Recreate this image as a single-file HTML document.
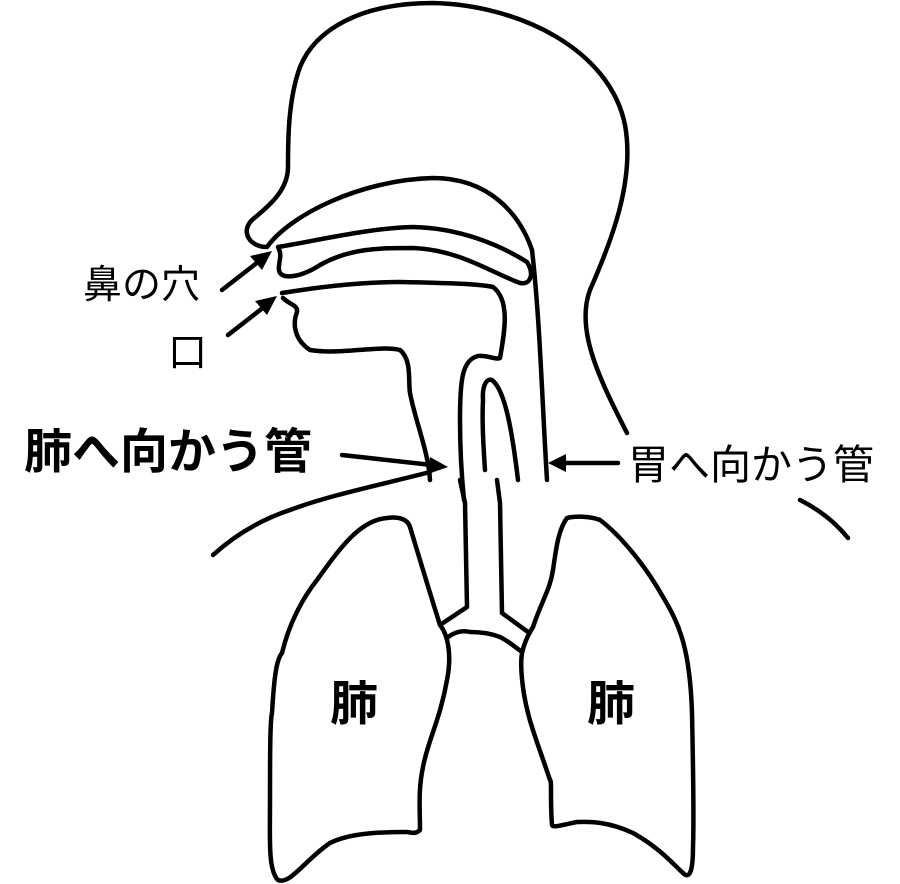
<!DOCTYPE html>
<html><head><meta charset="utf-8"><style>
html,body{margin:0;padding:0;background:#fff;width:900px;height:884px;overflow:hidden}
svg{display:block}
text{font-family:"Liberation Sans","Noto Sans CJK JP",sans-serif;fill:#000}
</style></head><body>
<svg width="900" height="884" viewBox="0 0 900 884" xmlns="http://www.w3.org/2000/svg">
<g fill="none" stroke="#000" stroke-width="4.5" stroke-linecap="round" stroke-linejoin="round">
<!-- head outline -->
<path d="M627,433 C600,380 575,330 590,290 C612,240 635,180 625,125 C610,50 520,5 433,3 C360,3 315,30 300,67 C288,100 288,140 288,167 C288,190 270,205 252,220 C240,232 250,247 267,247 C290,215 360,180 433,178 C490,178 520,215 532,250 C540,320 542,400 547,480"/>
<!-- nasal cavity floor -->
<path d="M278,247 C320,240 370,228 413,227 C460,228 500,245 527,262 C535,275 530,285 520,283 C490,272 460,250 413,248 C380,248 350,248 320,265 C300,278 280,280 279,270 C278,262 283,256 278,247 Z"/>
<!-- mouth -->
<path d="M282,293 C330,285 370,282 400,282 C450,283 480,284 493,287 C510,300 505,330 500,358 C495,360 488,355 478,356 C462,360 460,380 460,420 C460,450 462,480 464,500"/>
<path d="M283,298 C290,305 298,305 297,312 C292,325 295,340 310,350 C340,355 380,345 400,350 C412,360 408,380 410,393 C415,420 428,450 430,480"/>
<!-- epiglottis loop -->
<path d="M485,470 C483,440 482,420 483,400 C482,385 487,378 492,380 C505,390 512,430 518,480"/>
<!-- trachea -->
<path d="M460,480 L465,503 L467,607 L443,623"/>
<path d="M497,480 L500,503 L502,613 L528,632"/>
<path d="M448,637 C455,632 462,630 470,632 C485,632 495,635 500,637 C510,642 516,648 522,652"/>
<!-- lungs -->
<path d="M387,518 C400,516 408,520 410,527 C420,560 432,600 440,625 C448,635 452,655 447,680 C440,720 428,740 423,767 C418,790 420,810 420,830 C415,835 410,832 407,832 C380,832 350,833 330,843 C305,860 290,885 278,880 C268,870 270,840 270,800 C270,760 270,720 272,713 C274,680 276,660 282,653 C290,620 305,595 317,580 C340,548 360,520 387,518 Z"/>
<path d="M567,518 C575,516 590,516 600,520 C620,535 645,565 663,597 C680,625 690,650 692,713 C693,760 694,820 693,847 C693,870 690,880 683,873 C675,866 660,848 633,833 C605,820 585,822 577,822 C562,825 553,828 552,825 C550,800 552,780 550,780 C540,750 532,730 528,713 C522,690 520,665 522,653 C525,640 530,632 533,627 C542,600 550,590 553,570 C556,550 558,530 567,518 Z"/>
<!-- shoulders -->
<path d="M213,555 C235,535 260,520 290,510 C330,495 380,485 430,472"/>
<path d="M800,500 C820,510 835,522 848,538"/>
<!-- arrow shafts -->
<path d="M222,290 L258,262"/>
<path d="M228,335 L264,307"/>
<path d="M342,455 L432,465"/>
<path d="M618,463 L562,463"/>
</g>
<g fill="#000">
<polygon points="272,251 250,256 262,270"/>
<polygon points="277,296 255,301 267,315"/>
<polygon points="448,467 430,457 428,474"/>
<polygon points="548,463 566,454 566,472"/>
</g>
<text x="83" y="298" font-size="39">鼻の穴</text>
<text x="168" y="366" font-size="39">口</text>
<text x="24" y="468" font-size="48" font-weight="bold">肺へ向かう管</text>
<text x="628" y="479" font-size="41">胃へ向かう管</text>
<text x="330" y="720" font-size="48" font-weight="bold">肺</text>
<text x="587" y="720" font-size="48" font-weight="bold">肺</text>
</svg>
</body></html>
